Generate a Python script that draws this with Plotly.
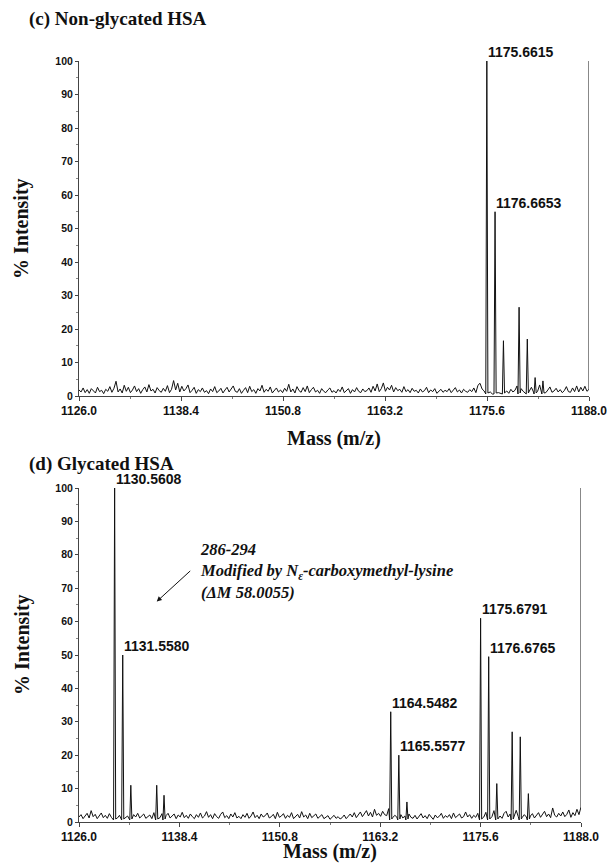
import plotly.graph_objects as go

# ---------------- data ----------------
MASS_START = 1126.0
MASS_STEP = 0.25
MASS_END = 1188.0

x_tick_vals = [1126.0, 1138.4, 1150.8, 1163.2, 1175.6, 1188.0]
x_tick_text = ["1126.0", "1138.4", "1150.8", "1163.2", "1175.6", "1188.0"]
y_tick_vals = [0, 10, 20, 30, 40, 50, 60, 70, 80, 90, 100]

# panel (c) baseline noise, % intensity (sampled every 0.25 m/z)
noise_c = [
    1.8, 1.2, 2.4, 1.0, 1.9, 0.8, 2.2, 1.5, 0.9, 2.6, 1.3, 1.7, 0.7, 2.0, 1.4, 2.8, 1.1, 2.3, 4.4, 1.2,
    2.1, 0.9, 3.2, 1.4, 2.6, 1.0, 1.8, 3.0, 1.3, 2.2, 0.8, 1.9, 2.7, 1.2, 3.4, 1.5, 2.0, 0.9, 2.5, 1.6,
    1.1, 2.3, 1.4, 3.1, 1.0, 2.0, 4.6, 1.8, 3.8, 1.2, 2.9, 1.5, 2.2, 3.3, 1.0, 1.7, 2.6, 0.8, 1.9, 1.3,
    2.4, 1.1, 1.6, 0.7, 2.1, 1.3, 2.8, 1.0, 1.5, 2.3, 0.9, 1.8, 2.6, 1.2, 2.0, 3.0, 1.4, 1.1, 2.2, 0.8,
    1.7, 2.5, 1.0, 2.9, 1.3, 1.9, 0.8, 2.2, 1.5, 3.2, 1.1, 2.0, 1.4, 2.7, 0.9, 1.6, 2.4, 1.2, 1.8, 1.0,
    2.3, 1.4, 3.5, 1.2, 2.1, 0.9, 2.8, 1.6, 1.1, 2.5, 1.3, 3.0, 1.0, 1.9, 2.6, 1.2, 1.7, 0.8, 2.2, 1.4,
    1.0, 1.8, 2.4, 1.1, 1.6, 0.9, 2.0, 1.3, 2.7, 1.0, 1.5, 2.2, 0.8, 1.9, 1.2, 2.5, 1.4, 1.0, 2.1, 1.3,
    1.6, 2.4, 1.1, 2.9, 1.5, 3.6, 1.3, 2.2, 3.9, 1.4, 2.6, 1.8, 3.2, 1.2, 2.5, 1.6, 2.0, 1.1, 2.8, 1.3,
    1.9, 1.0, 2.3, 1.4, 1.7, 0.9, 2.1, 1.2, 1.6, 2.6, 1.0, 1.8, 1.3, 2.2, 0.8, 1.5, 2.0, 1.1, 1.7, 1.3,
    2.2, 1.0, 1.6, 2.5, 1.2, 1.8, 0.9, 2.0, 1.4, 1.1, 1.9, 1.3, 2.4, 1.0, 3.2, 3.8, 2.1, 1.5, 1.0, 2.0,
    1.2, 0.6, 1.8, 2.4, 1.0, 0.7, 2.6, 1.1, 1.5, 0.8, 2.0, 1.2, 1.7, 3.0, 1.1, 2.2, 1.4, 0.9, 2.1, 1.5,
    2.6, 1.2, 2.0, 1.4, 3.3, 1.3, 2.2, 1.0, 1.8, 2.7, 1.1, 1.5, 2.3, 1.2, 1.9, 1.0, 1.6, 2.8, 1.3, 1.1,
    2.4, 1.3, 3.0, 1.2, 2.6, 1.5, 2.9, 1.4, 2.0,
]
peak_mass_c = [1175.58, 1176.58, 1177.6, 1179.5, 1180.5, 1181.45, 1182.4]
peak_int_c = [100, 55, 16.5, 26.5, 17, 5.5, 4.5]
end_int_c = 100

# panel (d) baseline noise
noise_d = [
    1.5, 2.2, 1.0, 1.8, 2.6, 1.2, 3.4, 1.6, 2.3, 1.0, 1.9, 2.7, 1.3, 2.0, 1.1, 2.5, 1.4, 3.0, 1.8, 1.2,
    2.0, 1.6, 2.4, 1.3, 1.8, 2.9, 1.0, 2.2, 1.5, 2.6, 1.2, 1.9, 2.4, 1.1, 1.7, 2.1, 1.0, 2.8, 1.4, 2.0,
    1.3, 2.5, 1.1, 1.9, 2.6, 1.2, 1.8, 2.4, 1.0, 2.1, 1.5, 2.9, 1.3, 2.0, 1.1, 2.4, 1.6, 1.0, 2.2, 1.4,
    2.7, 1.2, 1.8, 3.1, 1.4, 2.2, 1.0, 2.5, 1.6, 1.1, 2.3, 3.0, 1.3, 1.9, 1.0, 2.4, 1.5, 2.8, 1.2, 1.7,
    1.0, 2.2, 1.4, 2.6, 1.1, 1.8, 3.0, 1.3, 2.0, 1.0, 2.4, 1.5, 1.9, 2.7, 1.2, 1.6, 2.3, 1.0, 2.9, 1.4,
    1.8, 2.5, 1.1, 2.0, 1.4, 2.8, 1.0, 1.7, 2.3, 1.2, 3.1, 1.5, 2.1, 1.0, 2.6, 1.3, 1.9, 2.4, 1.1, 1.6,
    2.2, 1.0, 1.5, 1.9, 0.8, 1.4, 2.0, 1.1, 1.6, 0.9, 1.3, 2.1, 1.0, 1.7, 2.4, 1.5, 2.8, 1.3, 2.2, 3.0,
    1.6, 2.7, 3.4, 1.8, 2.9, 1.5, 3.8, 2.0, 2.6, 1.7, 3.2, 2.2, 1.9, 4.0, 2.4, 1.3, 2.0, 1.5, 3.1, 2.2,
    1.2, 1.8, 1.0, 2.4, 1.4, 1.1, 2.0, 0.9, 1.6, 2.5, 1.2, 1.9, 1.0, 2.3, 1.5, 0.8, 2.1, 1.3, 1.7, 2.6,
    1.1, 1.9, 1.4, 2.2, 1.0, 2.7, 1.3, 1.8, 2.4, 1.2, 1.6, 3.0, 1.5, 2.2, 1.1, 2.0, 1.4, 2.6, 1.8, 2.3,
    1.5, 2.9, 1.2, 2.0, 1.6, 3.4, 1.3, 2.2, 1.8, 1.1, 2.6, 3.2, 1.5, 2.4, 1.2, 2.0, 3.5, 1.6, 2.8, 1.4,
    2.2, 1.5, 3.0, 1.8, 2.5, 1.2, 2.0, 2.8, 1.4, 2.2, 3.2, 1.6, 2.4, 1.3, 4.2, 2.0, 1.5, 2.6, 1.8, 3.0,
    1.6, 2.3, 3.6, 1.4, 2.8, 1.9, 3.8, 2.2, 4.5,
]
peak_mass_d = [1130.4, 1131.4, 1132.4, 1135.6, 1136.5, 1164.5, 1165.5, 1166.5,
               1175.6, 1176.6, 1177.6, 1179.5, 1180.5, 1181.5]
peak_int_d = [100, 50, 11, 11, 8, 33, 20, 6, 61, 49.5, 11.5, 27, 25.5, 8.5]
end_int_d = 100

# labelled peaks: (label, mass position, intensity)
labels_c = [("1175.6615", 1175.58, 100), ("1176.6653", 1176.58, 55)]
labels_d = [("1130.5608", 1130.4, 100), ("1131.5580", 1131.4, 50),
            ("1164.5482", 1164.5, 33), ("1165.5577", 1165.5, 20),
            ("1175.6791", 1175.6, 61), ("1176.6765", 1176.6, 49.5)]


def build_spectrum(noise, pk_mass, pk_int, end_int):
    pts = []
    for i, v in enumerate(noise):
        m = MASS_START + i * MASS_STEP
        if m >= MASS_END - 0.01:
            continue
        if any(abs(m - pm) < 0.2 for pm in pk_mass):
            continue
        pts.append((m, v))
    for pm, ph in zip(pk_mass, pk_int):
        pts.append((pm - 0.13, 0.6))
        pts.append((pm, ph))
        pts.append((pm + 0.13, 0.9))
    pts.sort()
    pts.append((MASS_END, noise[-1]))
    pts.append((MASS_END, end_int))
    return [p[0] for p in pts], [p[1] for p in pts]


xc, yc = build_spectrum(noise_c, peak_mass_c, peak_int_c, end_int_c)
xd, yd = build_spectrum(noise_d, peak_mass_d, peak_int_d, end_int_d)

W, H = 615, 868
OFF = 8  # page body margin offsets the figure in the browser

fig = go.Figure()
fig.add_trace(go.Scatter(x=xc, y=yc, mode="lines", line=dict(color="#111", width=1),
                         xaxis="x", yaxis="y", showlegend=False, hoverinfo="skip"))
fig.add_trace(go.Scatter(x=xd, y=yd, mode="lines", line=dict(color="#111", width=1),
                         xaxis="x2", yaxis="y2", showlegend=False, hoverinfo="skip"))

sans = "Liberation Sans, Arial, sans-serif"
serif = "Liberation Serif, Times New Roman, serif"

xaxis_common = dict(
    range=[MASS_START, MASS_END], tickvals=x_tick_vals, ticktext=x_tick_text,
    showline=True, linecolor="#444", linewidth=1, ticks="outside", ticklen=4,
    tickcolor="#444", showgrid=False, zeroline=False, automargin=False,
    tickfont=dict(family=sans, size=12, color="#111", weight="bold"),
    minor=dict(ticks="outside", ticklen=2, tickcolor="#777", dtick=6.2, tick0=1126.0),
)
yaxis_common = dict(
    range=[0, 100], tickvals=y_tick_vals, showline=True, linecolor="#444", linewidth=1,
    ticks="outside", ticklen=3, tickcolor="#444", showgrid=False, zeroline=False,
    automargin=False,
    tickfont=dict(family=sans, size=10.5, color="#111", weight="bold"),
    minor=dict(ticks="outside", ticklen=2, tickcolor="#888", dtick=5),
)


def px_x(p):
    return (p - OFF) / W


def px_y(p):
    return 1 - (p - OFF) / H


fig.update_layout(
    width=W, height=H, margin=dict(l=0, r=0, t=0, b=0, autoexpand=False),
    paper_bgcolor="white", plot_bgcolor="white",
    xaxis=dict(domain=[px_x(79), px_x(589)], anchor="y", **xaxis_common),
    yaxis=dict(domain=[px_y(396), px_y(61)], anchor="x", **yaxis_common),
    xaxis2=dict(domain=[px_x(79), px_x(581)], anchor="y2", **xaxis_common),
    yaxis2=dict(domain=[px_y(822), px_y(488)], anchor="x2", **yaxis_common),
)

ann = []
title_font = dict(family=serif, size=19, color="#111", weight="bold")
ann.append(dict(text="(c) Non-glycated HSA", x=px_x(27), y=px_y(19), xref="paper", yref="paper",
                xanchor="left", yanchor="middle", showarrow=False, font=title_font))
ann.append(dict(text="(d) Glycated HSA", x=px_x(27), y=px_y(464), xref="paper", yref="paper",
                xanchor="left", yanchor="middle", showarrow=False, font=title_font))
axis_title_font = dict(family=serif, size=20, color="#111", weight="bold")
ann.append(dict(text="Mass (m/z)", x=px_x(334), y=px_y(438), xref="paper", yref="paper",
                xanchor="center", yanchor="middle", showarrow=False, font=axis_title_font))
ann.append(dict(text="Mass (m/z)", x=px_x(330), y=px_y(851), xref="paper", yref="paper",
                xanchor="center", yanchor="middle", showarrow=False, font=axis_title_font))
ann.append(dict(text="% Intensity", x=px_x(22), y=px_y(229), xref="paper", yref="paper",
                xanchor="center", yanchor="middle", textangle=-90, showarrow=False,
                font=axis_title_font))
ann.append(dict(text="% Intensity", x=px_x(22), y=px_y(645), xref="paper", yref="paper",
                xanchor="center", yanchor="middle", textangle=-90, showarrow=False,
                font=axis_title_font))

peak_font = dict(family=sans, size=14, color="#111", weight="bold")
for lab, m, h in labels_c:
    ann.append(dict(text=lab, x=m, y=h, xref="x", yref="y", xanchor="left", yanchor="bottom",
                    showarrow=False, font=peak_font, xshift=0, yshift=0, borderpad=0))
for lab, m, h in labels_d:
    ann.append(dict(text=lab, x=m, y=h, xref="x2", yref="y2", xanchor="left", yanchor="bottom",
                    showarrow=False, font=peak_font, xshift=0, yshift=0, borderpad=0))

note_font = dict(family=serif, size=16.5, color="#111", weight="bold", style="italic")
ann.append(dict(text="286-294<br>Modified by N<sub>ε</sub>-carboxymethyl-lysine<br>(ΔM 58.0055)",
                x=px_x(198), y=px_y(571), xref="paper", yref="paper", xanchor="left",
                yanchor="middle", align="left", showarrow=False, font=note_font))
ann.append(dict(text="", x=1135.6, y=66, xref="x2", yref="y2", showarrow=True,
                ax=35, ay=-32, arrowhead=2, arrowsize=1, arrowwidth=1, arrowcolor="#111"))

fig.update_layout(annotations=ann)
fig.write_html("out.html")
